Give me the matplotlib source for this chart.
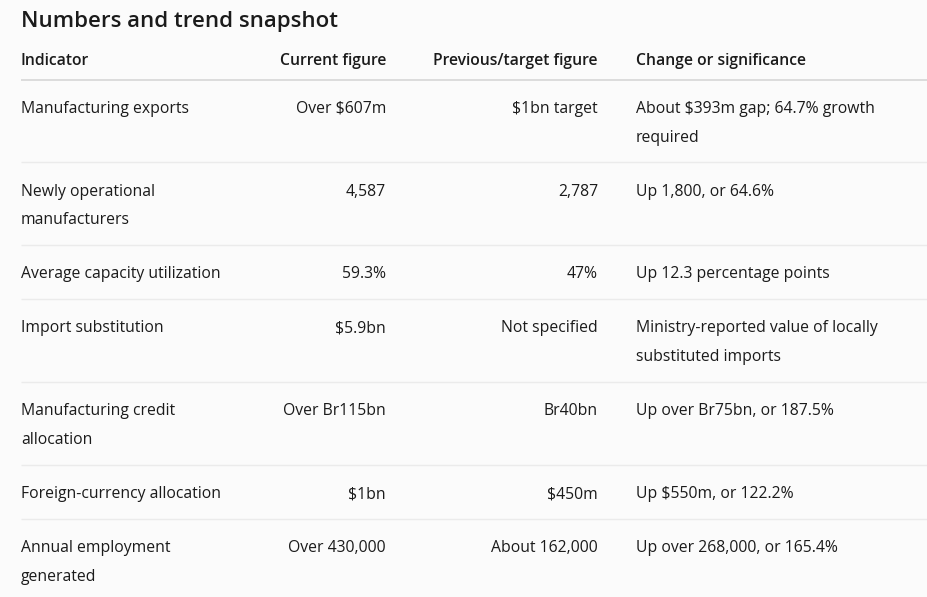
import matplotlib
matplotlib.use("Agg")
import matplotlib.pyplot as plt

title = "Numbers and trend snapshot"
headers = ["Indicator", "Current figure", "Previous/target figure", "Change or significance"]
indicators = ["Manufacturing exports", "Newly operational\nmanufacturers", "Average capacity utilization",
              "Import substitution", "Manufacturing credit\nallocation", "Foreign-currency allocation",
              "Annual employment\ngenerated"]
current = ["Over $607m", "4,587", "59.3%", "$5.9bn", "Over Br115bn", "$1bn", "Over 430,000"]
previous = ["$1bn target", "2,787", "47%", "Not specified", "Br40bn", "$450m", "About 162,000"]
change = ["About $393m gap; 64.7% growth\nrequired", "Up 1,800, or 64.6%", "Up 12.3 percentage points",
          "Ministry-reported value of locally\nsubstituted imports", "Up over Br75bn, or 187.5%",
          "Up $550m, or 122.2%", "Up over 268,000, or 165.4%"]

W, H = 927, 597
BG = "#fbfbfb"
TXT = "#1b1b1b"
FONT = ["Open Sans", "DejaVu Sans"]
fs = 11.3
LS = 28.8

fig = plt.figure(figsize=(W / 100, H / 100), dpi=100, facecolor=BG)
ax = fig.add_axes([0, 0, 1, 1])
ax.set_xlim(0, W)
ax.set_ylim(H, 0)
ax.axis("off")
ax.set_facecolor(BG)

ax.text(21, 22, title, fontsize=16.0, fontweight="semibold", color=TXT, family=FONT, va="center", ha="left")

col_x = [21, 386, 598, 636]
col_ha = ["left", "right", "right", "left"]
for x, ha, h in zip(col_x, col_ha, headers):
    ax.text(x, 61, h, fontsize=fs, fontweight="semibold", color=TXT, family=FONT, va="center", ha=ha)
ax.plot([21, W], [79.5, 79.5], color="#d6d6d6", lw=1.2, solid_capstyle="butt")

y = 79.5
for i in range(len(indicators)):
    cells = [indicators[i], current[i], previous[i], change[i]]
    nlines = max(c.count("\n") + 1 for c in cells)
    for x, ha, c in zip(col_x, col_ha, cells):
        for k, line in enumerate(c.split("\n")):
            ax.text(x, y + 29.3 + k * LS, line, fontsize=fs, color=TXT, family=FONT, va="center", ha=ha)
    y += 54 + (nlines - 1) * LS
    if i < len(indicators) - 1:
        ax.plot([21, W], [y, y], color="#ebebeb", lw=1.0, solid_capstyle="butt")

fig.savefig("out.png", dpi=100, facecolor=BG)
